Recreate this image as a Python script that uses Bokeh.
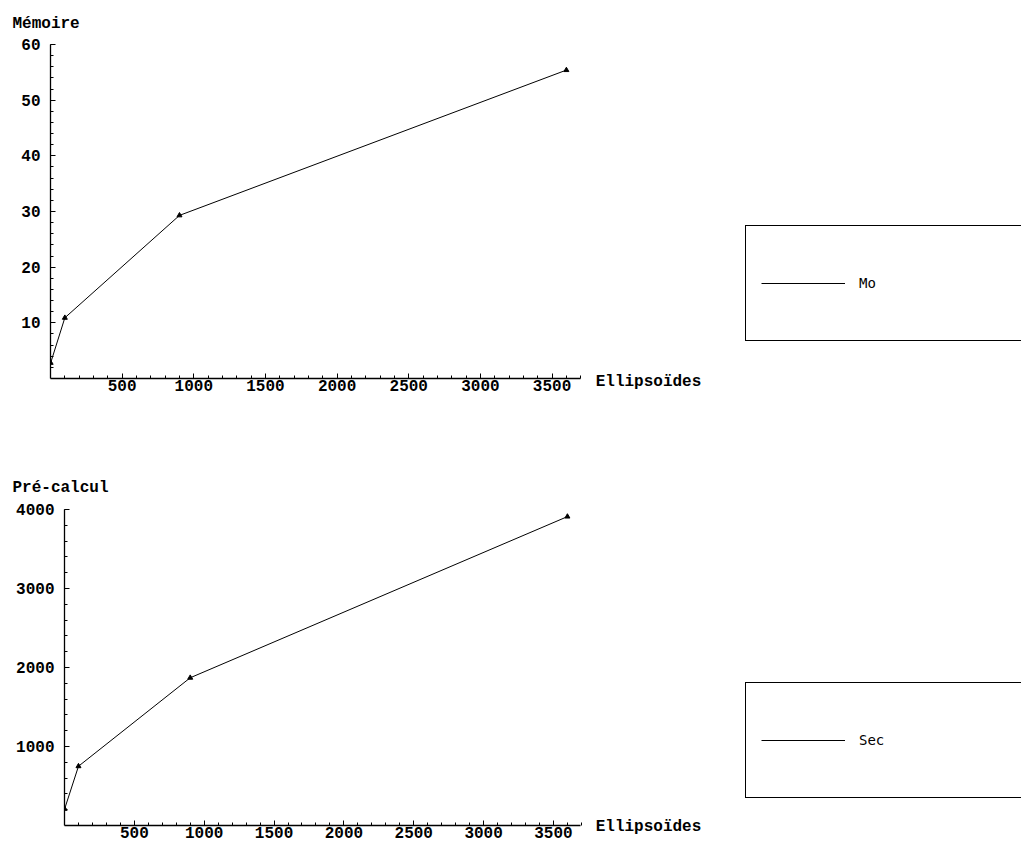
from bokeh.plotting import figure
from bokeh.models import (Range1d, FixedTicker, Legend, LegendItem, Title,
                          LinearAxis)
from bokeh.embed import file_html
from bokeh.resources import INLINE

# ---- data ----
ellipsoides = [1, 100, 900, 3600]
memoire_mo = [2.8, 10.9, 29.3, 55.4]
precalcul_sec = [210, 750, 1870, 3910]

x_ticks = [500, 1000, 1500, 2000, 2500, 3000, 3500]
x_minor = list(range(100, 3800, 100))
mem_ticks = [10, 20, 30, 40, 50, 60]
mem_minor = list(range(2, 62, 2))
sec_ticks = [1000, 2000, 3000, 4000]
sec_minor = list(range(200, 4200, 200))

FONT = "Liberation Mono"
W = 1021


def style_axis(ax, ticks, minor, stand):
    ax.ticker = FixedTicker(ticks=ticks, minor_ticks=minor)
    ax.axis_line_color = "black"
    ax.axis_line_width = 1.3
    ax.major_tick_in = 5
    ax.major_tick_out = 0
    ax.minor_tick_in = 3
    ax.minor_tick_out = 0
    ax.major_tick_line_color = "black"
    ax.minor_tick_line_color = "black"
    ax.major_label_text_font = FONT
    ax.major_label_text_font_style = "bold"
    ax.major_label_text_font_size = "16px"
    ax.major_label_text_color = "black"
    ax.major_label_standoff = stand


def make_panel(height, left, top, bottom, px_per_x, y_end, ys, y_ticks,
               y_minor, ylabel, ylabel_standoff, name_standoff,
               legend_label, legend_loc):
    p = figure(width=W, height=height, output_backend="svg",
               toolbar_location=None,
               x_range=Range1d(0, (W - left) / px_per_x),
               y_range=Range1d(0, y_end),
               min_border_left=left, min_border_top=top,
               min_border_bottom=bottom, min_border_right=0)
    p.outline_line_color = None
    p.xgrid.visible = False
    p.ygrid.visible = False
    p.background_fill_color = "white"
    p.border_fill_color = "white"

    style_axis(p.xaxis[0], x_ticks, x_minor, 1)
    style_axis(p.yaxis[0], y_ticks, y_minor, 10)
    p.xaxis[0].bounds = (0, (580 - left) / px_per_x)
    p.yaxis[0].bounds = (0, y_end)

    # axis name placed at the right end of the x axis
    name_pos = (648 - left) / px_per_x
    nax = LinearAxis(ticker=FixedTicker(ticks=[name_pos]),
                     major_label_overrides={name_pos: "Ellipsoïdes"})
    nax.axis_line_color = None
    nax.major_tick_line_color = None
    nax.minor_tick_line_color = None
    nax.major_tick_in = 0
    nax.major_tick_out = 0
    nax.major_label_standoff = name_standoff
    nax.major_label_text_font = FONT
    nax.major_label_text_font_style = "bold"
    nax.major_label_text_font_size = "16px"
    nax.major_label_text_color = "black"
    p.add_layout(nax, "below")

    r_line = p.line(ellipsoides, ys, line_color="black", line_width=1)
    p.scatter(ellipsoides, ys, marker="triangle", size=5,
              fill_color="black", line_color="black")

    p.add_layout(Title(text=ylabel, align="left", offset=12 - left,
                       standoff=ylabel_standoff, text_font=FONT,
                       text_font_style="bold", text_font_size="16px",
                       text_color="black"), "above")

    legend = Legend(items=[LegendItem(label=legend_label,
                                      renderers=[r_line])],
                    location=legend_loc, orientation="vertical",
                    border_line_color="black", border_line_width=1.3,
                    border_line_alpha=1,
                    background_fill_color="white", background_fill_alpha=1,
                    margin=0, padding=15, spacing=0,
                    glyph_width=84, glyph_height=84,
                    label_standoff=14, label_width=200, label_height=20,
                    label_text_font="DejaVu Sans Mono",
                    label_text_font_size="14px", label_text_color="black")
    p.add_layout(legend)
    return p


p1 = make_panel(450, 50, 43, 450 - 378, 0.1433, 60,
                memoire_mo, mem_ticks, mem_minor, "Mémoire", 24, -21,
                "Mo", (695, 37))
p2 = make_panel(398, 64, 509 - 450, 398 - (825 - 450), 0.1397,
                4000, precalcul_sec, sec_ticks, sec_minor, "Pré-calcul", 26,
                -23, "Sec", (681, 27))

open("out.html", "w").write(file_html([p1, p2], INLINE))
